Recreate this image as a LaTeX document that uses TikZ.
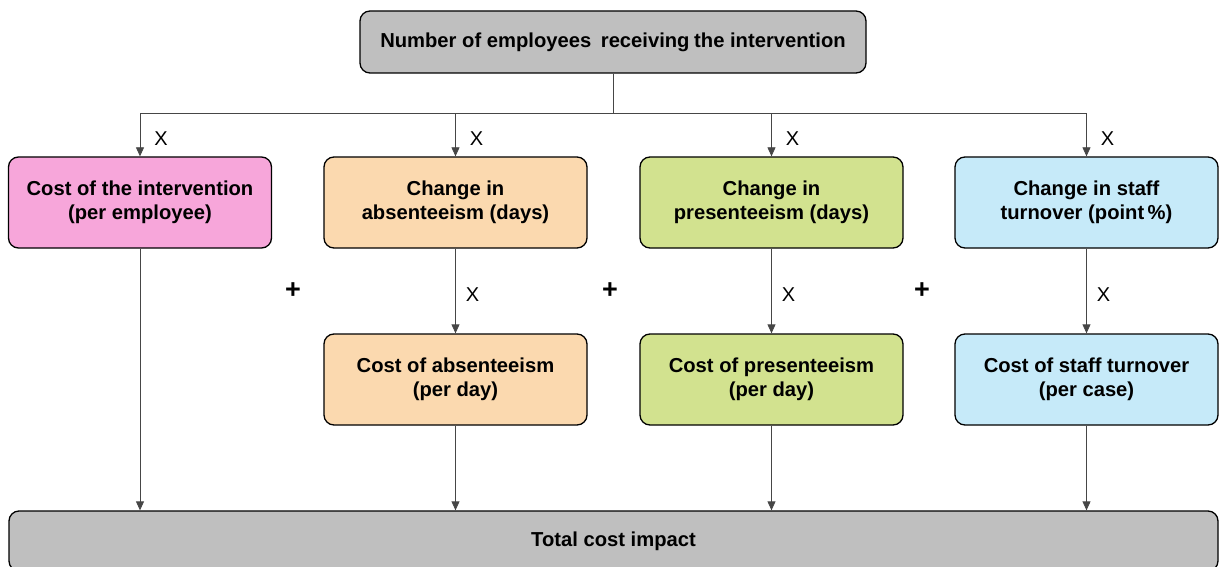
\documentclass[tikz,border=0pt]{standalone}
\usepackage{fontspec}
\setmainfont{Liberation Sans}
\usetikzlibrary{arrows.meta}

\definecolor{boxgray}{RGB}{191,191,191}
\definecolor{boxpink}{RGB}{247,166,218}
\definecolor{boxorange}{RGB}{251,217,175}
\definecolor{boxgreen}{RGB}{210,226,143}
\definecolor{boxblue}{RGB}{198,234,249}
\definecolor{linegray}{RGB}{70,70,70}

\tikzset{
	costbox/.style={draw=black, line width=1.3pt, rounded corners=10pt,
	minimum width=263pt, minimum height=91pt, inner sep=0pt, align=center,
	font=\fontsize{20.2}{24.5}\selectfont\bfseries},
	link/.style={draw=linegray, line width=0.8pt, -{Triangle[length=9pt,width=8pt]}},
	times/.style={anchor=west, inner sep=0pt, font=\fontsize{20}{24}\selectfont},
	plus/.style={inner sep=0pt, font=\fontsize{27}{30}\selectfont\bfseries}
}

\begin{document}
\begin{tikzpicture}[x=1pt, y=-1pt]
	\useasboundingbox (0,0) rectangle (1224,567);
	% boxes
	\node[costbox, fill=boxgray, minimum width=506pt, minimum height=62pt] (num) at (613,42)
		{Number of employees\hspace{4pt} receiving\hspace{-1pt} the intervention};
	\node[costbox, fill=boxpink] (inter) at (140,202.5) {Cost of the intervention\\(per employee)};
	\node[costbox, fill=boxorange] (absch) at (455.5,202.5) {Change in\\absenteeism (days)};
	\node[costbox, fill=boxgreen] (presch) at (771.5,202.5) {Change in\\presenteeism (days)};
	\node[costbox, fill=boxblue] (turnch) at (1086.5,202.5) {Change in staff\\turnover (point\,\%)};
	\node[costbox, fill=boxorange] (abscost) at (455.5,379.5) {Cost of absenteeism\\(per day)};
	\node[costbox, fill=boxgreen] (prescost) at (771.5,379.5) {Cost of presenteeism\\(per day)};
	\node[costbox, fill=boxblue] (turncost) at (1086.5,379.5) {Cost of staff turnover\\(per case)};
	\node[costbox, fill=boxgray, minimum width=1209pt, minimum height=60pt] (total) at (613.5,541)
		{Total cost impact};
	\coordinate (hub) at (613,113);
	% multiply by the number of employees
	\draw[link] (num.south) -- (hub) -| node[pos=0.75, times, xshift=14pt, yshift=-4pt]{X} (inter.north);
	\draw[link] (num.south) -- (hub) -| node[pos=0.75, times, xshift=14pt, yshift=-4pt]{X} (absch.north);
	\draw[link] (num.south) -- (hub) -| node[pos=0.75, times, xshift=14pt, yshift=-4pt]{X} (presch.north);
	\draw[link] (num.south) -- (hub) -| node[pos=0.75, times, xshift=14pt, yshift=-4pt]{X} (turnch.north);
	% multiply by unit costs
	\draw[link] (absch.south) -- node[times, xshift=10pt, yshift=-4pt]{X} (abscost.north);
	\draw[link] (presch.south) -- node[times, xshift=10pt, yshift=-4pt]{X} (prescost.north);
	\draw[link] (turnch.south) -- node[times, xshift=10pt, yshift=-4pt]{X} (turncost.north);
	% sum into total
	\draw[link] (inter.south) -- (inter.south |- total.north);
	\draw[link] (abscost.south) -- (abscost.south |- total.north);
	\draw[link] (prescost.south) -- (prescost.south |- total.north);
	\draw[link] (turncost.south) -- (turncost.south |- total.north);
	\node[plus] (plusa) at (293,291) {+};
	\node[plus] (plusb) at (610,291) {+};
	\node[plus] (plusc) at (922,291) {+};
\end{tikzpicture}
\end{document}
